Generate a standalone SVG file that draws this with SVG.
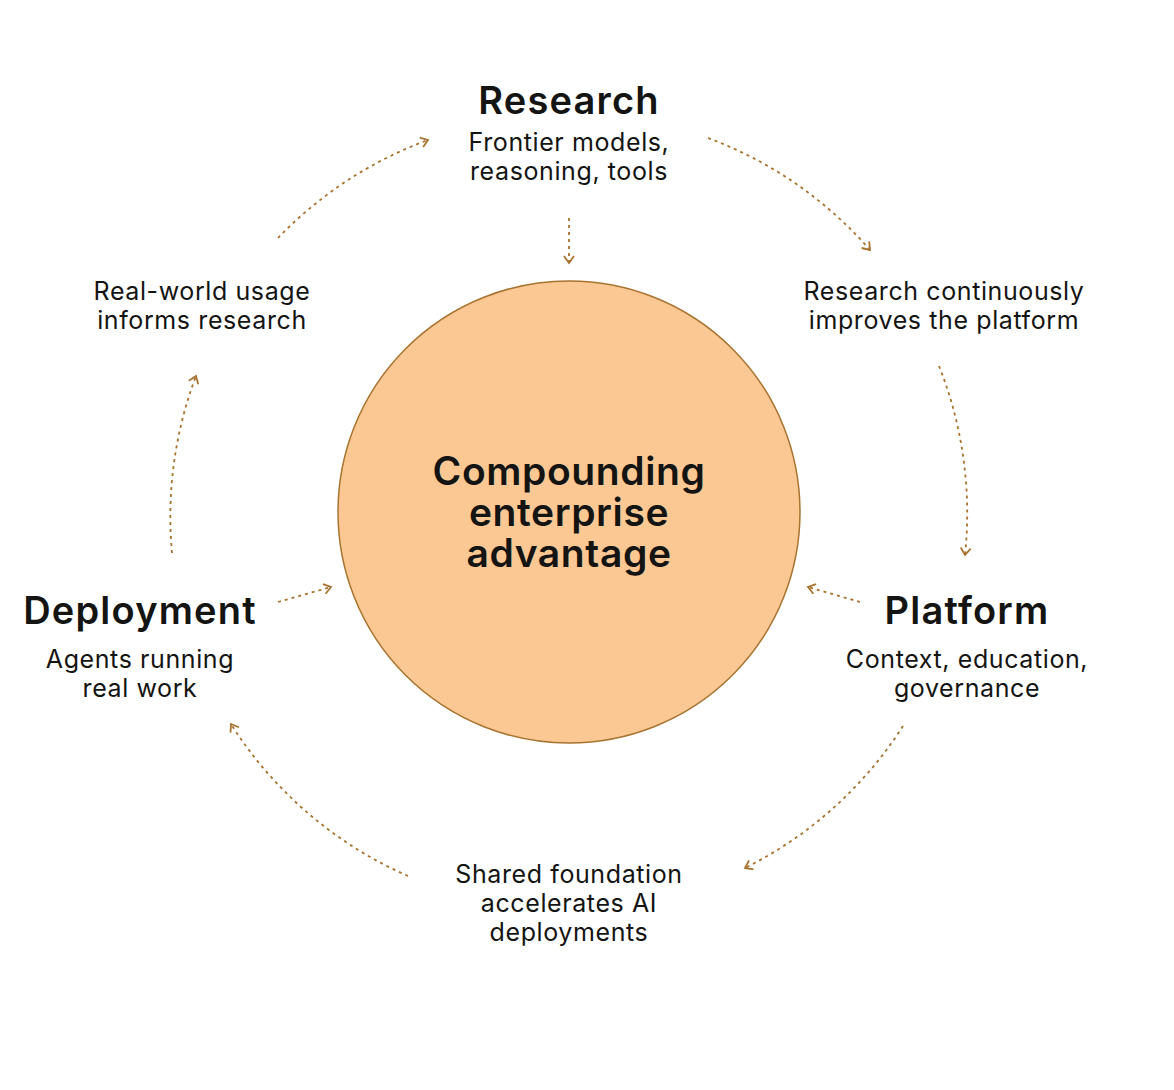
<svg xmlns="http://www.w3.org/2000/svg" width="1174" height="1090" viewBox="0 0 1174 1090">
<style>
text{font-family:Inter,"Noto Sans",sans-serif;fill:#141413;text-anchor:middle}
.h{font-size:38px;font-weight:600;letter-spacing:1.2px}
.s{font-size:25px;font-weight:400;letter-spacing:0.6px}
.c{font-size:39px;font-weight:600;letter-spacing:0.6px}
.a{fill:none;stroke:#A8732F;stroke-width:1.8;stroke-dasharray:3 4;marker-end:url(#ah)}
</style>
<defs>
<marker id="ah" viewBox="0 0 12 12" refX="10" refY="6" markerWidth="12" markerHeight="12" markerUnits="userSpaceOnUse" orient="auto">
<path d="M3,1 L10,6 L3,11" fill="none" stroke="#A8732F" stroke-width="1.8"/>
</marker>
</defs>
<rect width="1174" height="1090" fill="#fff"/>
<g id="connectors">
<path class="a" d="M278,238 A398,398 0 0 1 428,140"/>
<path class="a" d="M708,138 A398,398 0 0 1 870,250"/>
<path class="a" d="M939,366 A398,398 0 0 1 965,555"/>
<path class="a" d="M903,726 A398,398 0 0 1 745,868"/>
<path class="a" d="M408,876 A398,398 0 0 1 231,724"/>
<path class="a" d="M172,553 A398,398 0 0 1 196,376"/>
<path class="a" d="M569,218 L569,263"/>
<path class="a" d="M860,602 L808,587"/>
<path class="a" d="M278,602 L331,587"/>
</g>
<g id="center">
<circle cx="569" cy="512" r="231" fill="#FBC894" stroke="#A8732F" stroke-width="1.5"/>
<text class="c" x="569" y="485">Compounding</text>
<text class="c" x="569" y="526">enterprise</text>
<text class="c" x="569" y="567">advantage</text>
</g>
<g id="research">
<text class="h" x="569" y="114">Research</text>
<text class="s" x="569" y="151">Frontier models,</text>
<text class="s" x="569" y="180">reasoning, tools</text>
</g>
<g id="label-improves">
<text class="s" x="944" y="300">Research continuously</text>
<text class="s" x="944" y="329">improves the platform</text>
</g>
<g id="platform">
<text class="h" x="967" y="624">Platform</text>
<text class="s" x="967" y="668">Context, education,</text>
<text class="s" x="967" y="697">governance</text>
</g>
<g id="label-shared">
<text class="s" x="569" y="883">Shared foundation</text>
<text class="s" x="569" y="912">accelerates AI</text>
<text class="s" x="569" y="941">deployments</text>
</g>
<g id="deployment">
<text class="h" x="140" y="624">Deployment</text>
<text class="s" x="140" y="668">Agents running</text>
<text class="s" x="140" y="697">real work</text>
</g>
<g id="label-usage">
<text class="s" x="202" y="300">Real-world usage</text>
<text class="s" x="202" y="329">informs research</text>
</g>
</svg>
